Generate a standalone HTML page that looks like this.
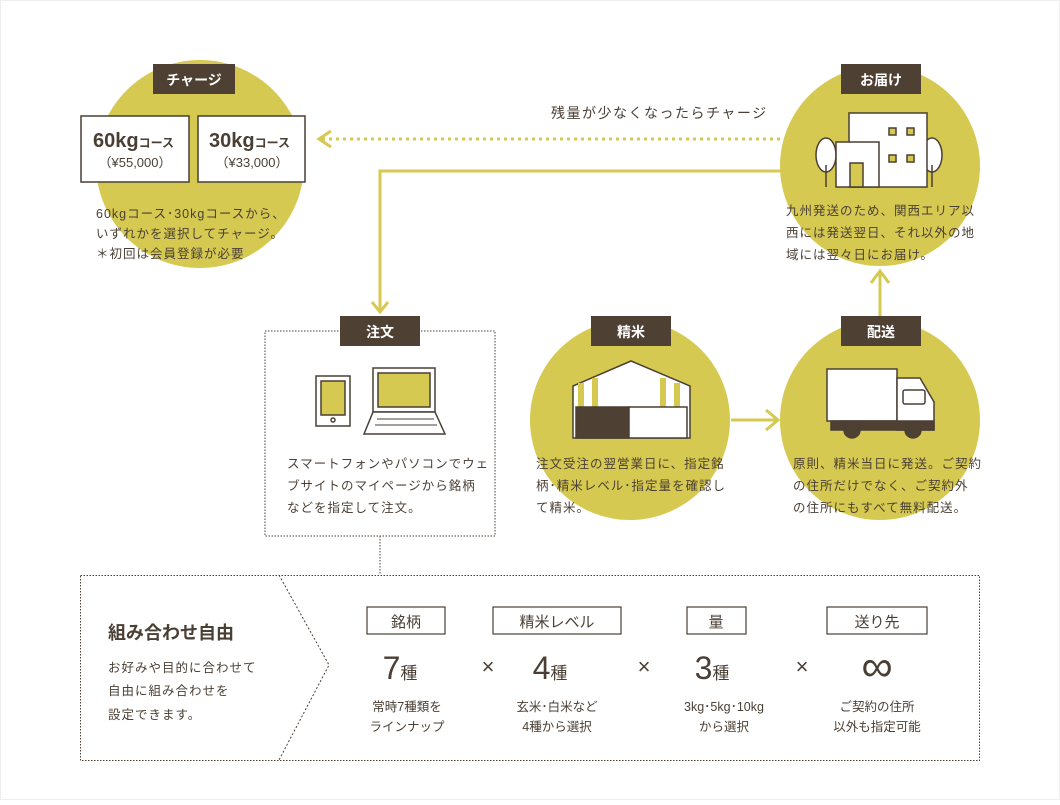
<!DOCTYPE html>
<html><head><meta charset="utf-8"><style>
body{margin:0;background:#fff;}
svg text{font-family:"Liberation Sans","Noto Sans CJK JP",sans-serif;fill:#4a3f35;}
</style></head><body>
<svg width="1060" height="800" viewBox="0 0 1060 800" xmlns="http://www.w3.org/2000/svg">
<rect x="0.5" y="0.5" width="1059" height="799" fill="#fff" stroke="#eee"/>
<g fill="#d6c951">
<circle cx="200" cy="164" r="104"/>
<circle cx="880" cy="166" r="100"/>
<circle cx="630" cy="420" r="100"/>
<circle cx="880" cy="420" r="100"/>
</g>
<line x1="780" y1="139" x2="322" y2="139" stroke="#d6c951" stroke-width="3" stroke-dasharray="3,4"/>
<polyline points="331,131 319,139 331,147" fill="none" stroke="#d6c951" stroke-width="3"/>
<polyline points="781,171 380,171 380,310" fill="none" stroke="#d6c951" stroke-width="3"/>
<polyline points="372,302 380,312 388,302" fill="none" stroke="#d6c951" stroke-width="3"/>
<line x1="731" y1="420" x2="777" y2="420" stroke="#d6c951" stroke-width="3"/>
<polyline points="766,410 778,420 766,430" fill="none" stroke="#d6c951" stroke-width="3"/>
<line x1="880" y1="316" x2="880" y2="272" stroke="#d6c951" stroke-width="3"/>
<polyline points="871,283 880,271 889,283" fill="none" stroke="#d6c951" stroke-width="3"/>
<rect x="153" y="64" width="82" height="30" fill="#4f4034"/>
<text x="194" y="85" font-size="14" font-weight="bold" text-anchor="middle" style="fill:#fff">チャージ</text>
<rect x="81" y="116" width="108" height="66" fill="#fff" stroke="#4a3f35" stroke-width="1.5"/>
<rect x="198" y="116" width="107" height="66" fill="#fff" stroke="#4a3f35" stroke-width="1.5"/>
<text x="93" y="147" font-size="20" font-weight="bold">60kg<tspan font-size="12">コース</tspan></text>
<text x="135" y="167" font-size="13" text-anchor="middle">（¥55,000）</text>
<text x="209" y="147" font-size="20" font-weight="bold">30kg<tspan font-size="12">コース</tspan></text>
<text x="252" y="167" font-size="13" text-anchor="middle">（¥33,000）</text>
<g font-size="12.5" letter-spacing="1">
<text x="96" y="218">60kgコース･30kgコースから、</text>
<text x="96" y="238">いずれかを選択してチャージ。</text>
<text x="96" y="258">＊初回は会員登録が必要</text>
</g>
<text x="551" y="118" font-size="14" letter-spacing="1.5">残量が少なくなったらチャージ</text>
<rect x="841" y="64" width="80" height="30" fill="#4f4034"/>
<text x="881" y="85" font-size="14" font-weight="bold" text-anchor="middle" style="fill:#fff">お届け</text>
<g stroke="#4a3f35" stroke-width="1.5" fill="#fff">
<ellipse cx="826" cy="155" rx="10" ry="17"/><line x1="826" y1="165" x2="826" y2="187"/>
<ellipse cx="932" cy="155" rx="10" ry="17"/><line x1="932" y1="165" x2="932" y2="187"/>
<rect x="849" y="113" width="78" height="74"/>
<rect x="836" y="142" width="43" height="45"/>
<rect x="850" y="163" width="13" height="24" fill="#d6c951"/>
<rect x="889" y="128" width="7" height="7" fill="#d6c951"/><rect x="907" y="128" width="7" height="7" fill="#d6c951"/>
<rect x="889" y="155" width="7" height="7" fill="#d6c951"/><rect x="907" y="155" width="7" height="7" fill="#d6c951"/>
</g>
<g font-size="12.5" letter-spacing="1">
<text x="786" y="215">九州発送のため、関西エリア以</text>
<text x="786" y="237">西には発送翌日、それ以外の地</text>
<text x="786" y="259">域には翌々日にお届け。</text>
</g>
<rect x="265" y="331" width="230" height="205" fill="none" stroke="#4a3f35" stroke-width="1" stroke-dasharray="1.5,1.5"/>
<rect x="340" y="316" width="80" height="30" fill="#4f4034"/>
<text x="380" y="337" font-size="14" font-weight="bold" text-anchor="middle" style="fill:#fff">注文</text>
<g stroke="#4a3f35" stroke-width="1.5">
<rect x="316" y="376" width="34" height="50" fill="#fff"/>
<rect x="321" y="381" width="24" height="34" fill="#d6c951"/>
<circle cx="333" cy="420" r="2" fill="#fff"/>
<rect x="373" y="368" width="62" height="44" fill="#fff"/>
<rect x="378" y="373" width="52" height="34" fill="#d6c951"/>
<polygon points="373,412 435,412 445,434 364,434" fill="#fff"/>
<line x1="377" y1="419" x2="434" y2="419" stroke-width="1"/><line x1="375" y1="425" x2="437" y2="425" stroke-width="1"/>
</g>
<g font-size="12.5" letter-spacing="1">
<text x="287" y="468">スマートフォンやパソコンでウェ</text>
<text x="287" y="490">ブサイトのマイページから銘柄</text>
<text x="287" y="512">などを指定して注文。</text>
</g>
<rect x="591" y="316" width="80" height="30" fill="#4f4034"/>
<text x="631" y="337" font-size="14" font-weight="bold" text-anchor="middle" style="fill:#fff">精米</text>
<g stroke="#4a3f35" stroke-width="1.5">
<polygon points="573,386 631,361 690,386 690,438 573,438" fill="#fff"/>
<g fill="#d6c951" stroke="none"><rect x="578" y="383" width="6" height="24"/><rect x="592" y="378" width="6" height="29"/><rect x="660" y="378" width="6" height="29"/><rect x="674" y="383" width="6" height="24"/></g>
<rect x="576" y="407" width="53" height="31" fill="#4f4034"/>
<rect x="629" y="407" width="58" height="31" fill="#fff"/>
</g>
<g font-size="12.5" letter-spacing="1">
<text x="536" y="468">注文受注の翌営業日に、指定銘</text>
<text x="536" y="490">柄･精米レベル･指定量を確認し</text>
<text x="536" y="512">て精米。</text>
</g>
<rect x="841" y="316" width="80" height="30" fill="#4f4034"/>
<text x="881" y="337" font-size="14" font-weight="bold" text-anchor="middle" style="fill:#fff">配送</text>
<g stroke="#4a3f35" stroke-width="1.5">
<rect x="827" y="369" width="70" height="52" fill="#fff"/>
<path d="M897,378 L920,378 L934,402 L934,430 L897,430 Z" fill="#fff"/>
<rect x="903" y="390" width="22" height="14" rx="2" fill="#fff"/>
<rect x="831" y="421" width="103" height="9" fill="#4f4034"/>
<circle cx="852" cy="430" r="8" fill="#4f4034"/><circle cx="913" cy="430" r="8" fill="#4f4034"/>
</g>
<g font-size="12.5" letter-spacing="1">
<text x="793" y="468">原則、精米当日に発送。ご契約</text>
<text x="793" y="490">の住所だけでなく、ご契約外</text>
<text x="793" y="512">の住所にもすべて無料配送。</text>
</g>
<line x1="380" y1="536" x2="380" y2="575" stroke="#4a3f35" stroke-width="1" stroke-dasharray="1.5,1.5"/>
<rect x="80.5" y="575.5" width="899" height="185" fill="none" stroke="#4a3f35" stroke-width="1" stroke-dasharray="1.5,1.5"/>
<polyline points="279,575 329,665 279,760" fill="none" stroke="#4a3f35" stroke-width="1" stroke-dasharray="2,2"/>
<text x="108" y="639" font-size="18" font-weight="bold">組み合わせ自由</text>
<g font-size="12.5" letter-spacing="1">
<text x="108" y="672">お好みや目的に合わせて</text>
<text x="108" y="695">自由に組み合わせを</text>
<text x="108" y="719">設定できます。</text>
</g>
<g fill="#fff" stroke="#4a3f35" stroke-width="1.2">
<rect x="367" y="607" width="78" height="27"/><rect x="493" y="607" width="128" height="27"/>
<rect x="687" y="607" width="59" height="27"/><rect x="827" y="607" width="100" height="27"/>
</g>
<g font-size="15" text-anchor="middle">
<text x="406" y="627">銘柄</text><text x="557" y="627">精米レベル</text>
<text x="716" y="627">量</text><text x="877" y="627">送り先</text>
</g>
<g font-size="32" text-anchor="middle">
<text x="400" y="679">7<tspan font-size="17">種</tspan></text>
<text x="550" y="679">4<tspan font-size="17">種</tspan></text>
<text x="712" y="679">3<tspan font-size="17">種</tspan></text>
<text x="877" y="681" font-size="44">∞</text>
</g>
<g font-size="22" text-anchor="middle"><text x="488" y="674">×</text><text x="644" y="674">×</text><text x="802" y="674">×</text></g>
<g font-size="12.5" text-anchor="middle">
<text x="407" y="711">常時7種類を</text><text x="407" y="731">ラインナップ</text>
<text x="557" y="711">玄米･白米など</text><text x="557" y="731">4種から選択</text>
<text x="724" y="711">3kg･5kg･10kg</text><text x="724" y="731">から選択</text>
<text x="877" y="711">ご契約の住所</text><text x="877" y="731">以外も指定可能</text>
</g>
</svg>
</body></html>
